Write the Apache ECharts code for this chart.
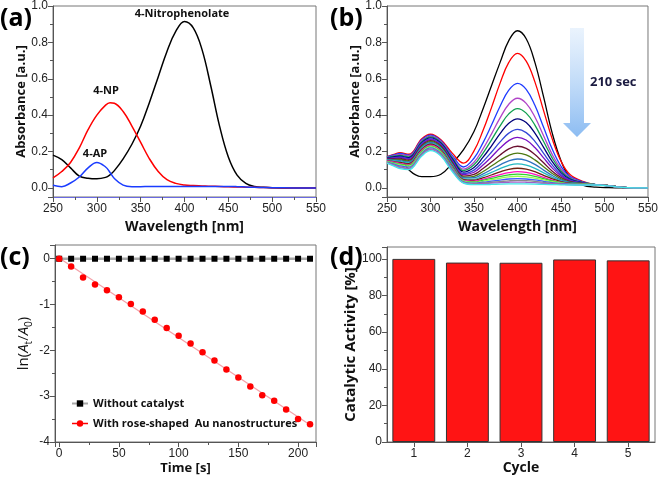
<!DOCTYPE html>
<html><head><meta charset="utf-8">
<script src="https://cdn.jsdelivr.net/npm/echarts@6/dist/echarts.min.js"></script>
<style>html,body{margin:0;padding:0;background:#fff}#c{width:661px;height:482px}</style>
</head><body><div id="c"></div>
<script>
// ---------- Panel (a) ----------
const wlA = [250,260,270,280,290,300,310,315,320,330,340,350,360,370,380,390,400,410,420,430,440,450,460,470,480,490,500,525,550];
const nitrophenolateA = [0.18,0.155,0.11,0.065,0.053,0.05,0.058,0.072,0.095,0.16,0.24,0.34,0.47,0.61,0.75,0.86,0.915,0.88,0.76,0.56,0.34,0.17,0.07,0.025,0.008,0.003,0.001,0,0];
const npA = [0.055,0.09,0.14,0.22,0.32,0.40,0.455,0.468,0.465,0.42,0.34,0.25,0.16,0.09,0.045,0.025,0.016,0.013,0.011,0.009,0.008,0.006,0.005,0.004,0.003,0.002,0.001,0,0];
const apA = [0.015,0.007,0.027,0.06,0.11,0.14,0.115,0.085,0.052,0.015,0.007,0.007,0.008,0.008,0.008,0.008,0.008,0.008,0.008,0.008,0.008,0.008,0.007,0.005,0.003,0.002,0.001,0,-0.001];

// ---------- Panel (b) ----------
const wlB = [250,258,265,275,290,300,312,325,338,350,360,370,380,390,400,410,420,430,440,450,460,475,490,505,520,550];
const specB00 = [0.17,0.168,0.166,0.10,0.062,0.062,0.075,0.135,0.21,0.31,0.43,0.56,0.69,0.81,0.864,0.82,0.69,0.50,0.30,0.15,0.06,0.015,0.004,0.001,0,0];
const specB01 = [0.172,0.185,0.194,0.185,0.270,0.295,0.265,0.191,0.136,0.204,0.311,0.44,0.576,0.69,0.74,0.697,0.583,0.425,0.268,0.147,0.075,0.036,0.018,0.012,0.003,0];
const specB02 = [0.170,0.181,0.189,0.180,0.265,0.290,0.260,0.179,0.115,0.163,0.245,0.344,0.449,0.537,0.575,0.542,0.454,0.333,0.212,0.119,0.064,0.033,0.018,0.012,0.003,0];
const specB03 = [0.168,0.178,0.184,0.176,0.259,0.285,0.255,0.171,0.103,0.141,0.212,0.296,0.385,0.460,0.493,0.465,0.390,0.287,0.183,0.104,0.057,0.031,0.018,0.012,0.003,0];
const specB04 = [0.166,0.174,0.179,0.171,0.254,0.280,0.250,0.165,0.095,0.127,0.189,0.263,0.341,0.407,0.436,0.411,0.345,0.255,0.164,0.094,0.053,0.030,0.018,0.012,0.003,0];
const specB05 = [0.164,0.171,0.174,0.166,0.249,0.275,0.245,0.159,0.087,0.112,0.166,0.230,0.298,0.355,0.380,0.359,0.301,0.223,0.144,0.084,0.048,0.028,0.018,0.012,0.003,0];
const specB06 = [0.162,0.167,0.170,0.161,0.244,0.270,0.240,0.152,0.079,0.098,0.143,0.196,0.253,0.301,0.322,0.304,0.256,0.190,0.125,0.074,0.044,0.027,0.018,0.012,0.003,0];
const specB07 = [0.160,0.163,0.165,0.157,0.238,0.265,0.235,0.146,0.073,0.086,0.124,0.170,0.219,0.260,0.278,0.263,0.222,0.165,0.109,0.066,0.040,0.026,0.018,0.012,0.003,0];
const specB08 = [0.158,0.160,0.160,0.152,0.233,0.260,0.230,0.140,0.065,0.074,0.105,0.142,0.181,0.215,0.229,0.217,0.183,0.138,0.092,0.057,0.036,0.025,0.018,0.012,0.003,0];
const specB09 = [0.156,0.156,0.155,0.147,0.228,0.255,0.225,0.135,0.059,0.064,0.089,0.120,0.152,0.179,0.191,0.181,0.154,0.116,0.079,0.050,0.033,0.024,0.018,0.012,0.003,0];
const specB10 = [0.154,0.153,0.150,0.143,0.223,0.250,0.220,0.130,0.055,0.056,0.076,0.101,0.127,0.149,0.159,0.151,0.129,0.098,0.068,0.044,0.031,0.023,0.018,0.012,0.003,0];
const specB11 = [0.152,0.149,0.145,0.138,0.217,0.245,0.215,0.125,0.049,0.048,0.065,0.085,0.106,0.124,0.132,0.125,0.107,0.083,0.058,0.039,0.028,0.022,0.018,0.012,0.003,0];
const specB12 = [0.150,0.145,0.140,0.133,0.212,0.240,0.210,0.119,0.046,0.042,0.055,0.071,0.088,0.102,0.108,0.103,0.089,0.069,0.050,0.035,0.026,0.021,0.018,0.012,0.003,0];
const specB13 = [0.148,0.142,0.135,0.128,0.207,0.235,0.205,0.116,0.041,0.037,0.047,0.060,0.073,0.084,0.089,0.085,0.074,0.058,0.043,0.031,0.024,0.020,0.018,0.012,0.003,0];
const specB14 = [0.146,0.138,0.130,0.124,0.201,0.230,0.200,0.111,0.039,0.033,0.042,0.052,0.063,0.072,0.076,0.073,0.063,0.051,0.038,0.029,0.023,0.020,0.018,0.012,0.003,0];
const specB15 = [0.144,0.134,0.126,0.119,0.196,0.225,0.195,0.106,0.037,0.030,0.036,0.045,0.053,0.061,0.064,0.061,0.054,0.044,0.034,0.026,0.021,0.019,0.018,0.012,0.003,0];
const specB16 = [0.142,0.131,0.121,0.114,0.191,0.220,0.190,0.103,0.033,0.026,0.031,0.037,0.043,0.049,0.051,0.049,0.044,0.036,0.029,0.024,0.020,0.018,0.018,0.012,0.003,0];
const specB17 = [0.140,0.127,0.116,0.109,0.186,0.215,0.185,0.098,0.031,0.023,0.027,0.031,0.035,0.039,0.041,0.040,0.036,0.030,0.025,0.021,0.019,0.017,0.017,0.011,0.003,0];
const specB18 = [0.138,0.124,0.111,0.105,0.180,0.210,0.180,0.095,0.028,0.021,0.023,0.026,0.029,0.031,0.032,0.031,0.029,0.025,0.022,0.020,0.018,0.017,0.017,0.011,0.003,0];
const specB19 = [0.136,0.120,0.106,0.100,0.175,0.205,0.175,0.090,0.026,0.018,0.018,0.019,0.021,0.022,0.022,0.022,0.021,0.019,0.018,0.017,0.016,0.016,0.016,0.011,0.003,0];
const colorsB = ['#000000','#ff0000','#1f3cff','#b044c8','#12a050','#00007a','#3346d8','#7a10c4','#6a1030','#4e7a12','#2f74c0','#22b8c0','#6e2010','#ff10c0','#30d030','#90ff50','#3c5cff','#8a8a8a','#a060c8','#40e8e8'];

// ---------- Panel (c) ----------
const timeC = [0,10,20,30,40,50,60,70,80,90,100,110,120,130,140,150,160,170,180,190,200,210];
const withoutCatalyst = [0,0,0,0,0,0,0,0,0,0,0,0,0,0,0,0,0,0,0,0,0,0];
const withAu = [0,-0.17,-0.41,-0.56,-0.69,-0.84,-0.99,-1.15,-1.33,-1.51,-1.68,-1.85,-2.04,-2.22,-2.42,-2.59,-2.79,-2.98,-3.10,-3.29,-3.50,-3.61];

// ---------- Panel (d) ----------
const cycles = ['1','2','3','4','5'];
const activity = [100,98,97.9,99.7,99.2];

const pairs = (xs, ys) => xs.map((x, i) => [x, ys[i]]);
const specsB = [specB00,specB01,specB02,specB03,specB04,specB05,specB06,specB07,specB08,specB09,specB10,specB11,specB12,specB13,specB14,specB15,specB16,specB17,specB18,specB19];

// linear fit for (c)
const n = timeC.length;
const mx = timeC.reduce((a,b)=>a+b,0)/n, my = withAu.reduce((a,b)=>a+b,0)/n;
let sxy=0, sxx=0; for (let i=0;i<n;i++){ sxy+=(timeC[i]-mx)*(withAu[i]-my); sxx+=(timeC[i]-mx)**2; }
const slope = sxy/sxx, icpt = my - slope*mx;
const fitLine = [[timeC[0], icpt + slope*timeC[0]], [timeC[n-1]+2, icpt + slope*(timeC[n-1]+2)]];

const AX = '#555';
const SANS = "'Liberation Sans', Arial, sans-serif";
const tickFont = {fontFamily:SANS, fontSize:12, color:'#222'};
const nameFont = (sz) => ({fontFamily:'Open Sans', fontWeight:'bold', fontSize:sz, color:'#111'});
function axis(extra) {
  return Object.assign({
    type:'value', splitLine:{show:false},
    axisLine:{show:true, onZero:false, lineStyle:{color:AX, width:1}},
    axisTick:{show:true, length:5, lineStyle:{color:AX}},
    minorTick:{show:true, splitNumber:2, length:3, lineStyle:{color:AX}},
    nameLocation:'middle'
  }, extra);
}
const xLab = (o) => Object.assign({margin:6}, tickFont, o || {});
const yLab = (o) => Object.assign({margin:5}, tickFont, o || {});

const series = [];
const lineA = (d, c) => ({type:'line', xAxisIndex:0, yAxisIndex:0, data:d, smooth:0.4, showSymbol:false, lineStyle:{color:c, width:1.5}});
series.push(lineA(pairs(wlA, nitrophenolateA), '#000'));
series.push(lineA(pairs(wlA, npA), '#ff0000'));
series.push(lineA(pairs(wlA, apA), '#1a3cff'));
specsB.forEach((s, i) => series.push({type:'line', xAxisIndex:1, yAxisIndex:1, data:pairs(wlB, s), smooth:0.4, showSymbol:false, lineStyle:{color:colorsB[i], width:1.3}}));
series.push({name:'Without catalyst', type:'line', xAxisIndex:2, yAxisIndex:2, data:pairs(timeC, withoutCatalyst), symbol:'rect', symbolSize:6, itemStyle:{color:'#000'}, lineStyle:{color:'#a8a8a8', width:2.5}, z:3});
series.push({type:'line', xAxisIndex:2, yAxisIndex:2, data:fitLine, showSymbol:false, lineStyle:{color:'#f4a0a8', width:1.2}, z:2});
series.push({name:'With rose-shaped  Au nanostructures', type:'line', xAxisIndex:2, yAxisIndex:2, data:pairs(timeC, withAu), symbol:'circle', symbolSize:6.5, itemStyle:{color:'#ff0000'}, lineStyle:{opacity:0}, z:4});
series.push({type:'bar', xAxisIndex:3, yAxisIndex:3, data:activity, barCategoryGap:'20%', itemStyle:{color:'#ff1414', borderColor:'#333', borderWidth:1}});

const labelFont = {fontFamily:'Open Sans', fontWeight:'bold', fontSize:11, fill:'#111'};
const panelFont = {fontFamily:'Open Sans', fontWeight:'bold', fontSize:25, fill:'#000'};

const option = {
  animation:false, backgroundColor:'#fff',
  grid:[
    {left:53, top:5, width:263, height:192, show:true, borderColor:'#777', borderWidth:1},
    {left:387, top:5, width:264, height:192, show:true, borderColor:'#777', borderWidth:1},
    {left:55, top:245, width:261, height:197, show:true, borderColor:'#777', borderWidth:1},
    {left:387, top:247, width:268, height:195, show:true, borderColor:'#777', borderWidth:1}
  ],
  xAxis:[
    axis({gridIndex:0, min:250, max:550, name:'Wavelength [nm]', nameGap:23, nameTextStyle:nameFont(14), axisLabel:xLab(), axisLine:{show:true,onZero:false,lineStyle:{color:'#6a6ae0',width:1}}}),
    axis({gridIndex:1, min:250, max:550, name:'Wavelength [nm]', nameGap:23, nameTextStyle:nameFont(14), axisLabel:xLab()}),
    axis({gridIndex:2, min:-3.5, max:215, name:'Time [s]', nameGap:20, nameTextStyle:nameFont(13), axisLabel:xLab({showMinLabel:false, showMaxLabel:false})}),
    {type:'category', gridIndex:3, data:cycles, name:'Cycle', nameLocation:'middle', nameGap:19, nameTextStyle:nameFont(14),
     axisLine:{show:true, lineStyle:{color:AX}}, axisTick:{show:true, alignWithLabel:true, length:5, lineStyle:{color:AX}},
     axisLabel:xLab(), splitLine:{show:false}}
  ],
  yAxis:[
    axis({gridIndex:0, min:-0.05, max:1.0, name:'Absorbance [a.u.]', nameGap:25, nameTextStyle:nameFont(13), axisLabel:yLab({showMinLabel:false, formatter:v=>v.toFixed(1)})}),
    axis({gridIndex:1, min:-0.05, max:1.0, name:'Absorbance [a.u.]', nameGap:25, nameTextStyle:nameFont(13), axisLabel:yLab({showMinLabel:false, formatter:v=>v.toFixed(1)})}),
    axis({gridIndex:2, min:-4, max:0.3, nameGap:21, axisLabel:yLab({showMaxLabel:false}),
      name:'{n|ln(}{i|A}{s|t}{n|/}{i|A}{s|0}{n|)}',
      nameTextStyle:{rich:{
        n:{fontFamily:'Open Sans', fontSize:15, color:'#111', lineHeight:20, verticalAlign:'middle'},
        i:{fontFamily:'Open Sans', fontStyle:'italic', fontSize:15, color:'#111', lineHeight:20, verticalAlign:'middle'},
        s:{fontFamily:'Open Sans', fontSize:10, color:'#111', lineHeight:20, verticalAlign:'bottom'}
      }}}),
    axis({gridIndex:3, min:0, max:106.5, name:'Catalytic Activity [%]', nameGap:24, nameTextStyle:nameFont(15), axisLabel:yLab({showMaxLabel:false})})
  ],
  legend:{
    data:[
      {name:'Without catalyst'},
      {name:'With rose-shaped  Au nanostructures', lineStyle:{color:'#ff0000', width:1.5, opacity:1}}
    ],
    left:66, top:393, orient:'vertical', itemWidth:16, itemHeight:8, itemGap:9,
    textStyle:{fontFamily:'Open Sans', fontWeight:'bold', fontSize:11, color:'#111'}
  },
  graphic:[
    {type:'text', left:0, top:6, style:Object.assign({text:'(a)'}, panelFont)},
    {type:'text', left:330, top:6, style:Object.assign({text:'(b)'}, panelFont)},
    {type:'text', left:0, top:245, style:Object.assign({text:'(c)'}, panelFont)},
    {type:'text', left:330, top:245, style:Object.assign({text:'(d)'}, panelFont)},
    {type:'text', x:182, y:14, style:Object.assign({text:'4-Nitrophenolate', textAlign:'center', textVerticalAlign:'middle'}, labelFont)},
    {type:'text', x:106, y:91, style:Object.assign({text:'4-NP', textAlign:'center', textVerticalAlign:'middle'}, labelFont)},
    {type:'text', x:95, y:154, style:Object.assign({text:'4-AP', textAlign:'center', textVerticalAlign:'middle'}, labelFont)},
    {type:'text', x:590, y:82, style:{text:'210 sec', textAlign:'left', textVerticalAlign:'middle', fontFamily:'Open Sans', fontWeight:'bold', fontSize:13, fill:'#1a1a40'}},
    {type:'polygon', shape:{points:[[570,28],[584,28],[584,123],[591,123],[577,137],[563,123],[570,123]]},
     style:{fill:{type:'linear', x:0, y:0, x2:0, y2:1, colorStops:[{offset:0, color:'rgba(225,238,252,0.7)'},{offset:1, color:'#8cbcf2'}]}}}
  ],
  series
};
const chart = echarts.init(document.getElementById('c'), null, {renderer:'canvas'});
chart.setOption(option);
</script></body></html>
